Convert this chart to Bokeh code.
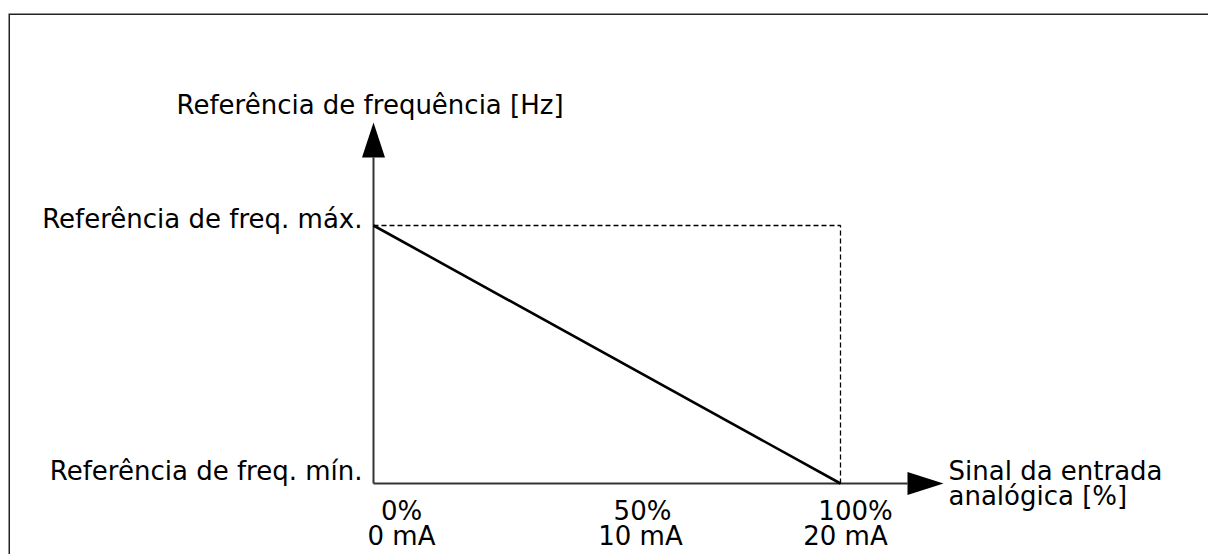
from bokeh.plotting import figure
from bokeh.models import Range1d
from bokeh.core.properties import value
from bokeh.embed import file_html
from bokeh.resources import INLINE

# ---- data ----
signal_pct = [0, 50, 100]
signal_ma = [0, 10, 20]
pct_labels = ["0%", "50%", "100%"]
ma_labels = ["0 mA", "10 mA", "20 mA"]
line_x = [0, 100]          # analog input signal [%]
line_y = [100, 0]          # frequency reference (max -> min)
freq_max = 100
freq_min = 0
y_title = "Referência de frequência [Hz]"
x_title = ["Sinal da entrada", "analógica [%]"]
max_label = "Referência de freq. máx."
min_label = "Referência de freq. mín."

# ---- layout constants (pixels) ----
W, H = 1208, 554
OX, OY = 373, 483          # origin in plot pixels (from left, from top)
SX, SY = 4.67, 2.58        # pixels per data unit

def dx(px):
    return px / SX

def dy(px):
    return px / SY

FONT = value("DejaVu Sans")
FS = "26px"

p = figure(width=W, height=H, output_backend="svg", toolbar_location=None,
           x_range=Range1d(-OX / SX, (W - OX) / SX),
           y_range=Range1d(-(H - OY) / SY, OY / SY),
           min_border=0, min_border_left=0, min_border_right=0,
           min_border_top=0, min_border_bottom=0)
p.axis.visible = False
p.grid.visible = False
p.outline_line_color = None
p.background_fill_color = "white"
p.border_fill_color = "white"

# frame border (top and left), one path with a clean corner
xL = p.x_range.start + dx(8.75)
yT = p.y_range.end - dy(13.75)
p.line([xL, xL, p.x_range.end + 10], [p.y_range.start - 10, yT, yT],
       line_color="#222222", line_width=1.5, line_join="miter")

# axes with arrows
y_tip = dy(361)
y_base = dy(326)
x_tip = dx(570)
x_base = dx(534)
p.line([0, 0], [0, y_base], line_color="#333333", line_width=2)
p.line([0, x_base], [0, 0], line_color="#333333", line_width=2)
p.patch([0, -dx(11.5), dx(11.5)], [y_tip, y_base, y_base], color="black", line_width=0)
p.patch([x_tip, x_base, x_base], [0, dy(11.5), -dy(11.5)], color="black", line_width=0)

# dashed max box
p.line([line_x[0], line_x[-1], line_x[-1]], [freq_max, freq_max, freq_min],
       line_color="black", line_width=1.3, line_dash="5 3")

# main characteristic line
p.line(line_x, line_y, line_color="black", line_width=2.6)

# texts
p.text(x=[dx(-197)], y=[dy(379)], text=[y_title], text_font=FONT,
       text_font_size=FS, text_align="left", text_baseline="alphabetic", text_color="black")
p.text(x=[dx(-11)], y=[freq_max + dy(7)], text=[max_label], text_font=FONT,
       text_font_size=FS, text_align="right", text_baseline="alphabetic", text_color="black")
p.text(x=[dx(-11)], y=[freq_min + dy(13)], text=[min_label], text_font=FONT,
       text_font_size=FS, text_align="right", text_baseline="alphabetic", text_color="black")
p.text(x=[x_tip + dx(5)] * 2, y=[dy(13), dy(-12)], text=x_title, text_font=FONT,
       text_font_size=FS, text_align="left", text_baseline="alphabetic", text_color="black")

pct_off = [28, 35.5, 15]
ma_off = [28, 33.5, 5]
p.text(x=[v + dx(o) for v, o in zip(signal_pct, pct_off)], y=[dy(-27)] * 3, text=pct_labels,
       text_font=FONT, text_font_size=FS, text_align="center", text_baseline="alphabetic",
       text_color="black")
p.text(x=[v * 5 + dx(o) for v, o in zip(signal_ma, ma_off)], y=[dy(-52)] * 3, text=ma_labels,
       text_font=FONT, text_font_size=FS, text_align="center", text_baseline="alphabetic",
       text_color="black")

open("out.html", "w").write(file_html(p, INLINE))
